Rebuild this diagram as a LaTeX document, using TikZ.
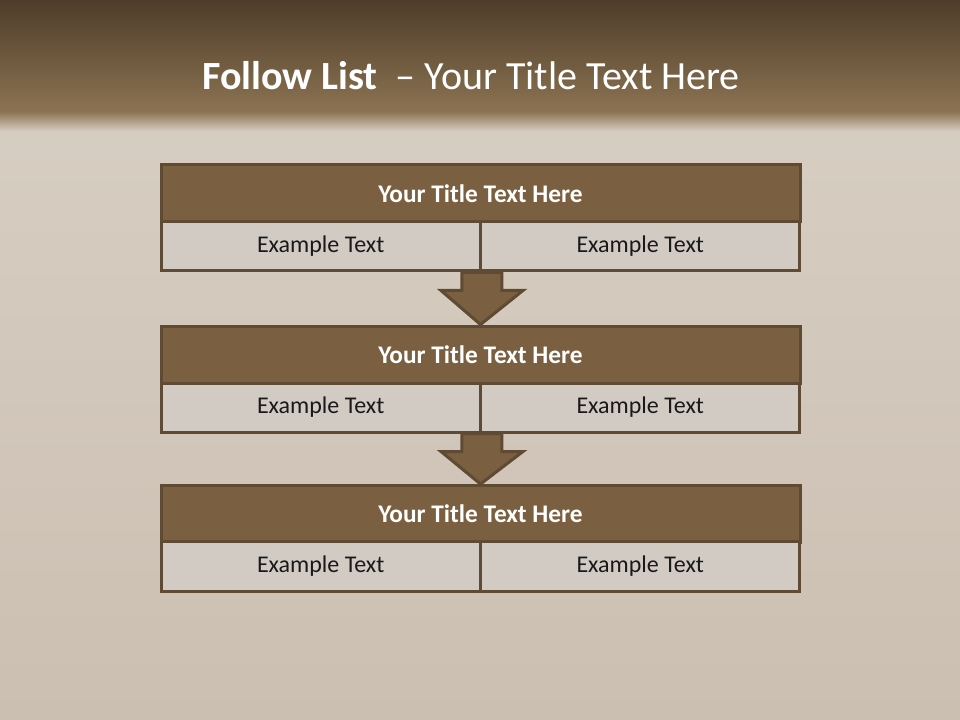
\documentclass[tikz,border=0pt]{standalone}
\usepackage{fontspec}
\setmainfont{Carlito}
\usetikzlibrary{calc}
\definecolor{bgc}{HTML}{D9D0C5}
\definecolor{bgd}{HTML}{CBBFB1}
\definecolor{hdtop}{HTML}{4E3D2A}
\definecolor{hdbot}{HTML}{8C7352}
\definecolor{tfill}{HTML}{7A5F40}
\definecolor{bord}{HTML}{5F4A33}
\definecolor{efill}{HTML}{D1CBC4}
\tikzset{
  titlebox/.style={draw=bord, fill=tfill, line width=2.25pt, minimum width=479.25pt, minimum height=42.75pt, inner sep=0pt, text=white, font=\fontsize{19}{22}\selectfont\bfseries},
  exbox/.style={draw=bord, fill=efill, line width=2.25pt, minimum width=239.6pt, minimum height=36.75pt, inner sep=0pt, text=black!90, font=\fontsize{18}{21}\selectfont},
  blockarrow/.style={draw=bord, fill=tfill, line width=2.25pt, line join=miter}
}
\begin{document}
\begin{tikzpicture}[x=0.75pt,y=-0.75pt]
\useasboundingbox (0,0) rectangle (960,720);
\shade[top color=bgc, bottom color=bgd] (0,0) rectangle (960,720);
\shade[top color=hdtop, bottom color=hdbot] (0,0) rectangle (960,112);
\shade[top color=hdbot, bottom color=bgc] (0,111.5) rectangle (960,132);
\node[text=white, font=\fontsize{30}{35}\selectfont] (title) at (471,76) {\textbf{Follow List}\ \ – Your Title Text Here};
% row 1
\node[titlebox] (t1) at (480.5,193.5) {Your Title Text Here};
\node[exbox] (a1) at (320.75,246.5) {Example Text};
\node[exbox] (b1) at (640.25,246.5) {Example Text};
% row 2
\node[titlebox] (t2) at (480.5,354.5) {Your Title Text Here};
\node[exbox] (a2) at (320.75,407.5) {Example Text};
\node[exbox] (b2) at (640.25,407.5) {Example Text};
% row 3
\node[titlebox] (t3) at (480.5,514) {Your Title Text Here};
\node[exbox, minimum height=37.5pt] (a3) at (320.75,566) {Example Text};
\node[exbox, minimum height=37.5pt] (b3) at (640.25,566) {Example Text};
% arrows
\foreach \s/\t in {a1/t2, a2/t3}{
  \coordinate (p) at (\s.south east);
  \coordinate (q) at (\t.north);
  \draw[blockarrow] ($(p)+(-20,0)$) -- ($(p)+(20,0)$) -- ($(p)+(20,18)$) -- ($(p)+(41,18)$) -- (q) -- ($(p)+(-41,18)$) -- ($(p)+(-20,18)$) -- cycle;
}
\end{tikzpicture}
\end{document}
